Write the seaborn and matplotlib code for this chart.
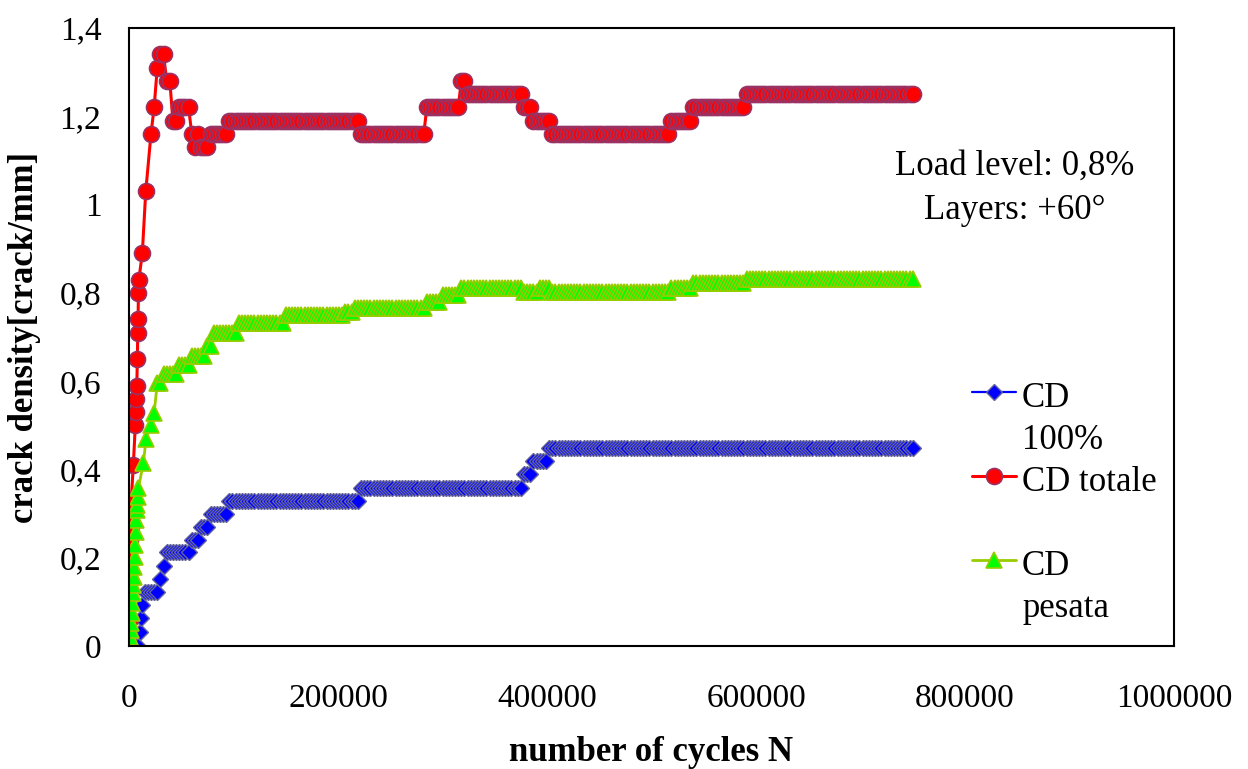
import numpy as np
import pandas as pd
import matplotlib
matplotlib.use('Agg')
import matplotlib.pyplot as plt
import seaborn as sns
from matplotlib.ticker import FuncFormatter

sns.set_theme(style='white')
plt.rcParams['font.family'] = ['Liberation Serif', 'DejaVu Serif']
plt.rcParams['text.color'] = 'black'
plt.rcParams['axes.labelcolor'] = 'black'

# regular measurement grid after the first rise (cycles)
grid_start, grid_stop, grid_step = 21000, 750000, 3000

# CD 100% (blue) - first points, then level changes on the grid
blue_early_n = [0, 3000, 6000, 9000, 10500, 11500, 12500, 15000, 18000]
blue_early_cd = [0, 0, 0, 0, 0.032, 0.063, 0.093, 0.122, 0.122]
blue_steps_n = [21000, 30000, 33000, 36000, 60000, 69000, 78000, 96000,
                222000, 378000, 387000, 402000]
blue_steps_cd = [0.122, 0.152, 0.182, 0.212, 0.24, 0.27, 0.30, 0.329,
                 0.357, 0.389, 0.419, 0.448]

# CD totale (red)
red_early_n = [0, 300, 600, 900, 1200, 1500, 1800, 2100, 4100, 6000, 6500,
               7000, 7400, 8000, 8300, 8600, 9000, 9400, 12700, 16000]
red_early_cd = [0, 0.03, 0.06, 0.15, 0.24, 0.27, 0.30, 0.33, 0.41, 0.50, 0.53,
                0.56, 0.59, 0.65, 0.71, 0.74, 0.80, 0.83, 0.89, 1.03]
red_steps_n = [21000, 24000, 27000, 30000, 36000, 42000, 48000, 60000, 63000,
               66000, 69000, 78000, 96000, 222000, 285000, 318000, 324000,
               378000, 387000, 405000, 519000, 540000, 591000]
red_steps_cd = [1.16, 1.22, 1.31, 1.34, 1.28, 1.19, 1.22, 1.16, 1.13,
                1.16, 1.13, 1.16, 1.19, 1.16, 1.22, 1.28, 1.25,
                1.22, 1.19, 1.16, 1.19, 1.22, 1.25]

# CD pesata (green)
green_early_n = [0, 500, 1000, 1500, 2000, 2500, 3000, 3500, 4000, 4500, 5000,
                 5500, 6000, 6500, 7000, 7500, 8000, 8500, 8900, 13700, 16300]
green_early_cd = [0, 0.007, 0.02, 0.036, 0.052, 0.075, 0.097, 0.12, 0.138,
                  0.156, 0.179, 0.201, 0.229, 0.258, 0.285, 0.308, 0.319,
                  0.337, 0.357, 0.414, 0.469]
green_steps_n = [21000, 24000, 27000, 33000, 48000, 60000, 75000, 81000,
                 105000, 150000, 207000, 216000, 285000, 300000, 318000,
                 378000, 393000, 405000, 519000, 540000, 591000]
green_steps_cd = [0.50, 0.528, 0.595, 0.616, 0.636, 0.657, 0.68, 0.709,
                  0.732, 0.75, 0.757, 0.765, 0.78, 0.795, 0.81,
                  0.802, 0.81, 0.802, 0.81, 0.822, 0.832]


def build(early_n, early_cd, steps_n, steps_cd):
    grid = np.arange(grid_start, grid_stop + 1, grid_step)
    idx = np.searchsorted(steps_n, grid, side='right') - 1
    n = np.concatenate([early_n, grid])
    cd = np.concatenate([early_cd, np.array(steps_cd)[idx]])
    return pd.DataFrame({'N': n, 'cd': cd})


blue = build(blue_early_n, blue_early_cd, blue_steps_n, blue_steps_cd)
red = build(red_early_n, red_early_cd, red_steps_n, red_steps_cd)
green = build(green_early_n, green_early_cd, green_steps_n, green_steps_cd)

fig = plt.figure(figsize=(12.48, 7.69), dpi=100)
ax = fig.add_axes([0.1034, 0.16, 0.8373, 0.8036])

sns.lineplot(data=blue, x='N', y='cd', ax=ax, sort=False, estimator=None,
             color='#0000FF', lw=1.6, marker='D', markersize=8.5,
             markerfacecolor='#0000FF', markeredgecolor='#666699',
             markeredgewidth=1.0, label='CD\n100%')
sns.lineplot(data=red, x='N', y='cd', ax=ax, sort=False, estimator=None,
             color='#FF0000', lw=2.2, marker='o', markersize=11.5,
             markerfacecolor='#FF0000', markeredgecolor='#993366',
             markeredgewidth=1.2, label='CD totale\n ')
sns.lineplot(data=green, x='N', y='cd', ax=ax, sort=False, estimator=None,
             color='#99CC00', lw=2.0, marker='^', markersize=11,
             markerfacecolor='#00FF00', markeredgecolor='#99CC00',
             markeredgewidth=1.2, label='CD\npesata')

ax.set_xlim(0, 1000000)
ax.set_ylim(0, 1.4)
ax.set_xticks([0, 200000, 400000, 600000, 800000, 1000000])
ax.set_yticks([0, 0.2, 0.4, 0.6, 0.8, 1.0, 1.2, 1.4])
ax.xaxis.set_major_formatter(FuncFormatter(lambda v, p: f'{int(v)}'))
ax.yaxis.set_major_formatter(FuncFormatter(lambda v, p: f'{v:g}'.replace('.', ',')))
ax.tick_params(axis='both', direction='in', length=8, width=1.2,
               labelsize=24, colors='black')
ax.tick_params(axis='x', pad=27)
ax.tick_params(axis='y', pad=20)
for s in ax.spines.values():
    s.set_color('black')
    s.set_linewidth(1.5)

ax.set_xlabel('number of cycles N', fontsize=25, fontweight='bold', labelpad=16)
ax.set_ylabel('crack density[crack/mm]', fontsize=25, fontweight='bold', labelpad=13)

ax.text(0.848, 0.74, 'Load level: 0,8%\nLayers: +60°', transform=ax.transAxes,
        ha='center', va='center', fontsize=25, linespacing=1.45)

leg = ax.legend(loc='upper left', bbox_to_anchor=(0.8067, 0.427), frameon=False,
                fontsize=25, handlelength=1.27, handletextpad=0.17,
                labelspacing=0.26, borderpad=0, borderaxespad=0)
for t in leg.get_texts():
    t.set_linespacing(1.36)
# put each legend symbol on the first line of its label
for h in leg.legend_handles:
    h.set_ydata(np.asarray(h.get_ydata()) + 20)

fig.savefig('out.png', dpi=100)
